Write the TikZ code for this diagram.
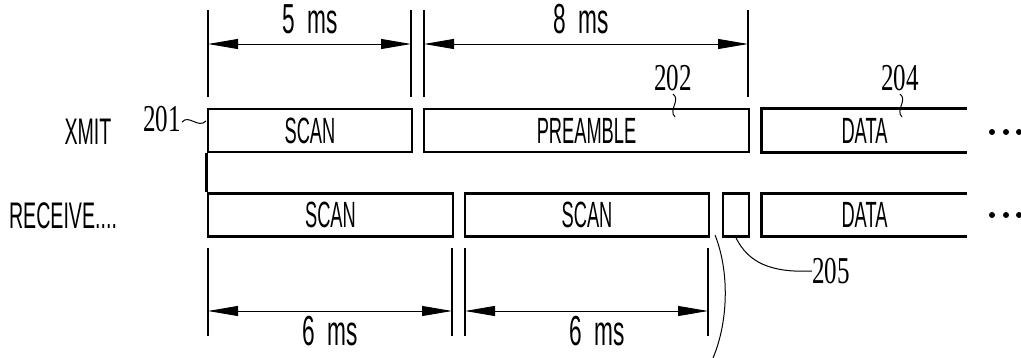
\documentclass[tikz,border=0pt]{standalone}
\usepackage{fontspec}
\usetikzlibrary{arrows.meta}
\newfontfamily\condf[FakeStretch=0.50]{Liberation Sans}
\newfontfamily\rowf[FakeStretch=0.53]{Liberation Sans}
\newfontfamily\dimf[FakeStretch=0.54]{Liberation Sans}
\newfontfamily\numf[FakeStretch=0.66]{Liberation Serif}
\tikzset{
  box/.style={draw, line width=2.7pt, inner sep=0pt, minimum height=43pt,
    font=\condf\fontsize{36.5}{36.5}\selectfont},
  openbox/.style={inner sep=0pt, minimum height=43pt,
    font=\condf\fontsize{36.5}{36.5}\selectfont},
  edge/.style={line width=2.7pt},
  ext/.style={line width=1.1pt},
  dimline/.style={line width=0.9pt, {Triangle[length=30pt,width=10pt]}-{Triangle[length=30pt,width=10pt]}},
  dimlabel/.style={font=\dimf\fontsize{42}{42}\selectfont, inner sep=0pt},
  rowlabel/.style={font=\rowf\fontsize{37}{37}\selectfont, inner sep=0pt},
  refnum/.style={font=\numf\fontsize{38}{38}\selectfont, inner sep=0pt},
  leader/.style={line width=1pt},
  dotc/.style={fill=black, circle, inner sep=0pt, minimum size=6pt}
}
\begin{document}
\begin{tikzpicture}[x=1pt, y=-1pt]
\useasboundingbox (0,0) rectangle (1021,358);
% row labels
\node[rowlabel] (lx) at (88,131.5) {XMIT};
\node[rowlabel] (lr) at (63,215.5) {RECEIVE....};
% XMIT row
\node[box, minimum width=204pt] (xscan) at (310,130.5) {SCAN};
\node[box, minimum width=325pt] (xpre) at (586.5,130.5) {PREAMBLE};
\node[openbox, minimum width=205pt] (xdata) at (864.5,130.5) {DATA};
\draw[edge] (xdata.north east) -- (xdata.north west) -- (xdata.south west) -- (xdata.south east);
% RECEIVE row
\node[box, minimum width=245pt] (rscan1) at (330.5,215) {SCAN};
\node[box, minimum width=244pt] (rscan2) at (587,215) {SCAN};
\node[box, minimum width=26pt] (rsmall) at (736,215) {};
\node[openbox, minimum width=205pt] (rdata) at (864.5,215) {DATA};
\draw[edge] (rdata.north east) -- (rdata.north west) -- (rdata.south west) -- (rdata.south east);
% connecting line
\draw[edge] (xscan.south west) -- (rscan1.north west);
% dots
\node[dotc] (d1) at (992,132) {};
\node[dotc] (d2) at (1006,132) {};
\node[dotc] (d3) at (1019,132) {};
\node[dotc] (d4) at (992,215) {};
\node[dotc] (d5) at (1006,215) {};
\node[dotc] (d6) at (1019,215) {};
% top extension lines
\coordinate (t1a) at (208,10); \coordinate (t1b) at (208,97);
\coordinate (t2a) at (411,10); \coordinate (t2b) at (411,97);
\coordinate (t3a) at (424,10); \coordinate (t3b) at (424,97);
\coordinate (t4a) at (748,10); \coordinate (t4b) at (748,97);
\draw[ext] (t1a) -- (t1b);
\draw[ext] (t2a) -- (t2b);
\draw[ext] (t3a) -- (t3b);
\draw[ext] (t4a) -- (t4b);
\coordinate (a1l) at (208,44); \coordinate (a1r) at (411,44);
\coordinate (a2l) at (424,44); \coordinate (a2r) at (748,44);
\draw[dimline] (a1l) -- (a1r);
\draw[dimline] (a2l) -- (a2r);
\node[dimlabel] (l5) at (310,19) {5\ \ ms};
\node[dimlabel] (l8) at (581,19) {8\ \ ms};
% bottom extension lines
\coordinate (b1a) at (208,248); \coordinate (b1b) at (208,336);
\coordinate (b2a) at (452,248); \coordinate (b2b) at (452,336);
\coordinate (b3a) at (465,248); \coordinate (b3b) at (465,336);
\coordinate (b4a) at (708,248); \coordinate (b4b) at (708,336);
\draw[ext] (b1a) -- (b1b);
\draw[ext] (b2a) -- (b2b);
\draw[ext] (b3a) -- (b3b);
\draw[ext] (b4a) -- (b4b);
\coordinate (c1l) at (208,311); \coordinate (c1r) at (452,311);
\coordinate (c2l) at (465,311); \coordinate (c2r) at (708,311);
\draw[dimline] (c1l) -- (c1r);
\draw[dimline] (c2l) -- (c2r);
\node[dimlabel] (l6a) at (330,331) {6\ \ ms};
\node[dimlabel] (l6b) at (597,331) {6\ \ ms};
% reference numerals
\node[refnum] (n201) at (162,119) {201};
\coordinate (s201) at (206,121);
\draw[leader] (n201.east) ++(1,3) .. controls ++(7,-8) and ++(-8,8) .. (s201);
\node[refnum] (n202) at (673,78) {202};
\coordinate (s202) at (675,117);
\draw[leader] (n202.south) ++(0,3) .. controls ++(8,6) and ++(-7,-7) .. (s202);
\node[refnum] (n204) at (900,78) {204};
\coordinate (s204) at (902,117);
\draw[leader] (n204.south) ++(0,3) .. controls ++(8,6) and ++(-7,-7) .. (s204);
\node[refnum] (n205) at (831,271) {205};
\draw[leader] (rsmall.south) .. controls (748,262) and (770,273) .. (n205.west);
% bracket curve
\coordinate (bk1) at (715,235);
\coordinate (bk2) at (713,358);
\draw[leader] (bk1) .. controls (729,270) and (729,320) .. (bk2);
\end{tikzpicture}
\end{document}
